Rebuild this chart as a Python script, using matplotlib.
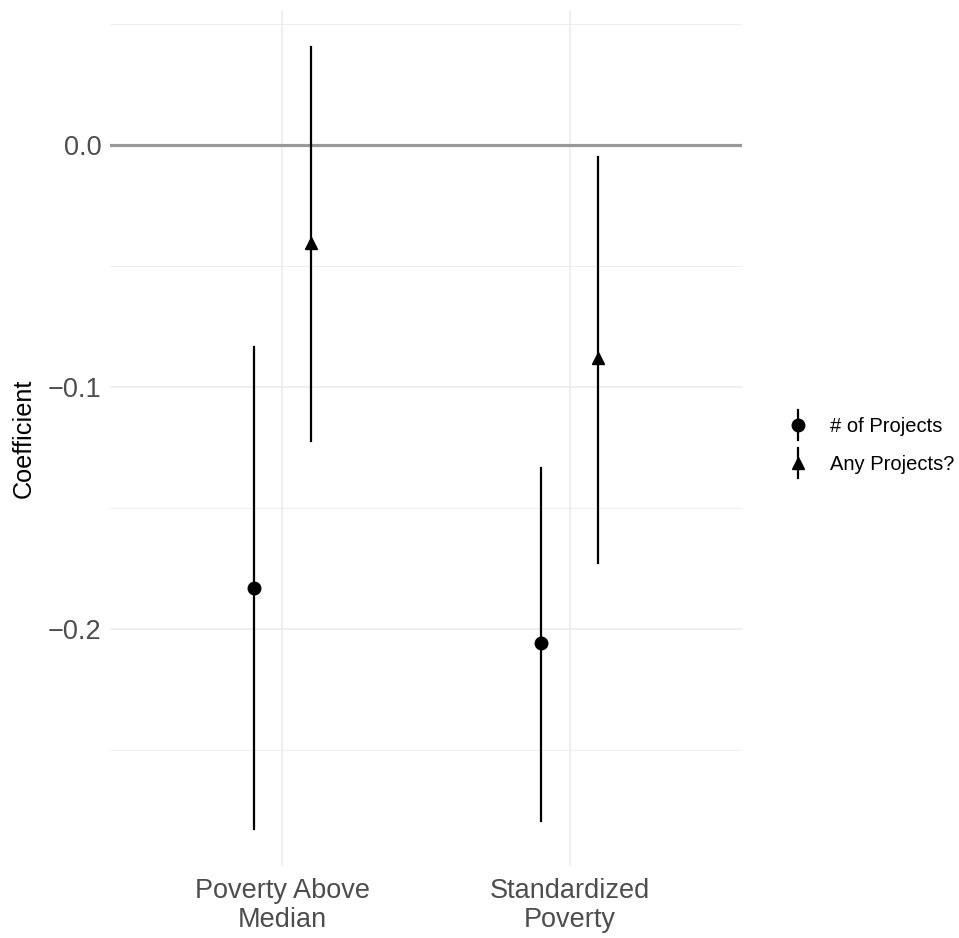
import matplotlib.pyplot as plt
from matplotlib.lines import Line2D
from matplotlib.legend_handler import HandlerBase

plt.rcParams['font.family'] = ['Liberation Sans', 'DejaVu Sans']

categories = ["Poverty Above\nMedian", "Standardized\nPoverty"]
series = ["# of Projects", "Any Projects?"]
markers = ["o", "^"]

# coefficient estimates and interval bounds, one list per series
est_n = [-0.183, -0.206]
lo_n = [-0.283, -0.2795]
hi_n = [-0.0835, -0.1335]

est_any = [-0.0405, -0.088]
lo_any = [-0.1225, -0.173]
hi_any = [0.0405, -0.005]


class VertHandler(HandlerBase):
    # vertical pointrange key, like ggplot's
    def create_artists(self, legend, orig, xd, yd, width, height, fontsize, trans):
        cx = xd + width / 2
        line = Line2D([cx, cx], [yd - 0.4 * fontsize, yd + height + 0.4 * fontsize],
                      color='black', lw=1.6, transform=trans)
        pt = Line2D([cx], [yd + height / 2], marker=orig.get_marker(), color='black',
                    ms=9, linestyle='none', transform=trans)
        return [line, pt]


fig = plt.figure(figsize=(9.59, 9.38), dpi=100)
ax = fig.add_axes([110 / 959, 1 - 866 / 938, (742 - 110) / 959, (866 - 10) / 938])

dodge = 0.1
xs = [0, 1]
for k, (est, lo, hi) in enumerate([(est_n, lo_n, hi_n), (est_any, lo_any, hi_any)]):
    off = -dodge if k == 0 else dodge
    for i in xs:
        x = i + off
        ax.plot([x, x], [lo[i], hi[i]], color='black', lw=1.6, zorder=3)
        ax.plot(x, est[i], marker=markers[k], color='black', ms=9, zorder=4,
                linestyle='none')

ax.axhline(0, color='#999999', lw=2.3, zorder=2)

ax.set_xlim(-0.6, 1.6)
ax.set_ylim(-0.2981, 0.0559)
ax.set_xticks(xs)
ax.set_xticklabels(categories)
ax.set_yticks([0.0, -0.1, -0.2])
ax.set_yticklabels(["0.0", "\u22120.1", "\u22120.2"])
ax.set_yticks([0.05, -0.05, -0.15, -0.25], minor=True)

ax.grid(True, which='major', color='#EBEBEB', lw=1.1)
ax.grid(True, which='minor', axis='y', color='#EBEBEB', lw=0.6)
ax.set_axisbelow(True)
for s in ax.spines.values():
    s.set_visible(False)
ax.tick_params(which='both', length=0)
ax.tick_params(axis='both', labelsize=19.5, labelcolor='#4D4D4D')
ax.tick_params(axis='x', pad=9)
ax.tick_params(axis='y', pad=6)
for t in ax.get_xticklabels():
    t.set_linespacing(1.12)
ax.set_ylabel("Coefficient", fontsize=18.2, labelpad=9)

handles = [Line2D([0], [0], color='black', marker=m, ms=9, lw=1.6)
           for m in markers]
leg = fig.legend(handles, series, loc='center left', bbox_to_anchor=(770 / 959, 0.525),
                 frameon=False, fontsize=14.5, handlelength=1.0, handletextpad=1.1,
                 labelspacing=0.95, handler_map={Line2D: VertHandler()})

fig.savefig("out.png", dpi=100)
